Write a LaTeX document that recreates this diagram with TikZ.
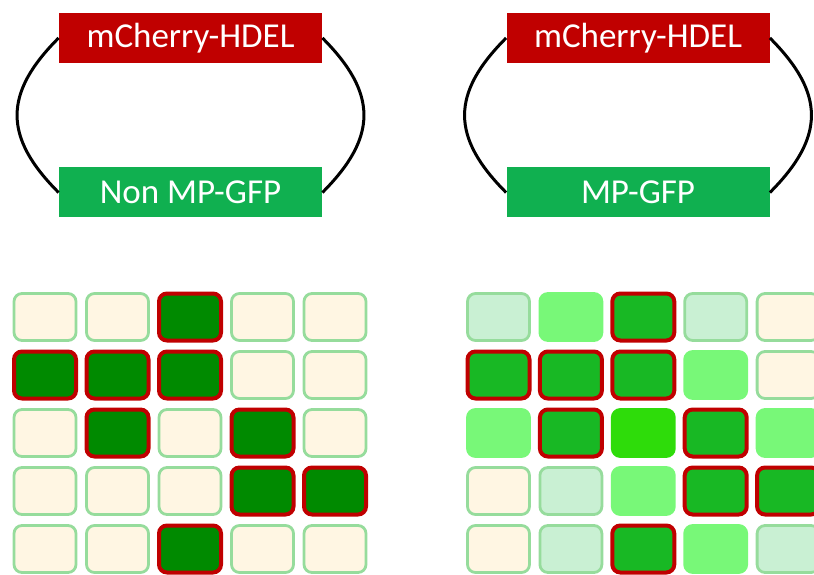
\documentclass[tikz,border=0pt]{standalone}
\usepackage{fontspec}
\setmainfont{Carlito}
\usetikzlibrary{positioning}

\definecolor{cherry}{HTML}{C00000}
\definecolor{gfpgreen}{HTML}{10B050}
\definecolor{creamfill}{HTML}{FFF6E3}
\definecolor{rimgreen}{HTML}{96DC9C}
\definecolor{palefill}{HTML}{C9F0D3}
\definecolor{midfill}{HTML}{78F878}
\definecolor{darkfill}{HTML}{18B824}
\definecolor{limefill}{HTML}{2EDC0A}
\definecolor{deepfill}{HTML}{008A00}

\begin{document}
\begin{tikzpicture}[
    x=0.5pt, y=0.5pt,
    gene/.style  = {minimum width=131.5pt, minimum height=25pt, inner sep=0pt,
                    text=white, font=\fontsize{17.5}{20}\selectfont},
    mch/.style   = {gene, fill=cherry},
    gfp/.style   = {gene, fill=gfpgreen},
    ring/.style  = {line width=1.5pt, black},
    cell/.style  = {minimum width=31pt, minimum height=23.5pt, inner sep=0pt,
                    rounded corners=4pt, line width=1.4pt},
    off/.style   = {cell, fill=creamfill, draw=rimgreen},
    pale/.style  = {cell, fill=palefill, draw=rimgreen},
    mid/.style   = {cell, fill=midfill, draw=midfill},
    lime/.style  = {cell, fill=limefill, draw=limefill},
    hit/.style   = {cell, fill=darkfill, draw=cherry, line width=2pt},
    deep/.style  = {cell, fill=deepfill, draw=cherry, line width=2pt}
  ]

  \useasboundingbox (0,0) rectangle (814,574);
  \clip (0,0) rectangle (814,574);

  % plasmids
  \node[mch] (mchA) at (190.5,536)   {mCherry-HDEL};
  \node[gfp] (gfpA) at (190.5,381.5) {Non MP-GFP};
  \node[mch] (mchB) at (638,536)     {mCherry-HDEL};
  \node[gfp] (gfpB) at (638,381.5)   {MP-GFP};

  \foreach \p in {A,B} {
  \draw[ring] (mch\p.west) to[out=225,in=135,looseness=1.3] (gfp\p.west);
  \draw[ring] (mch\p.east) to[out=-45,in=45,looseness=1.3] (gfp\p.east);
  }

  % grids
  \foreach \row [count=\r] in {{off,off,deep,off,off},
                               {deep,deep,deep,off,off},
                               {off,deep,off,deep,off},
                               {off,off,off,deep,deep},
                               {off,off,deep,off,off}} {
    \foreach \s [count=\j] in \row
      \node[\s] (L\r\j) at ({45+72.5*(\j-1)},{257-58*(\r-1)}) {};
  }

  \foreach \row [count=\r] in {{pale,mid,hit,pale,off},
                               {hit,hit,hit,mid,off},
                               {mid,hit,lime,hit,mid},
                               {off,pale,mid,hit,hit},
                               {off,pale,hit,mid,pale}} {
    \foreach \s [count=\j] in \row
      \node[\s] (R\r\j) at ({498.5+72.4*(\j-1)},{257-58*(\r-1)}) {};
  }

\end{tikzpicture}
\end{document}
